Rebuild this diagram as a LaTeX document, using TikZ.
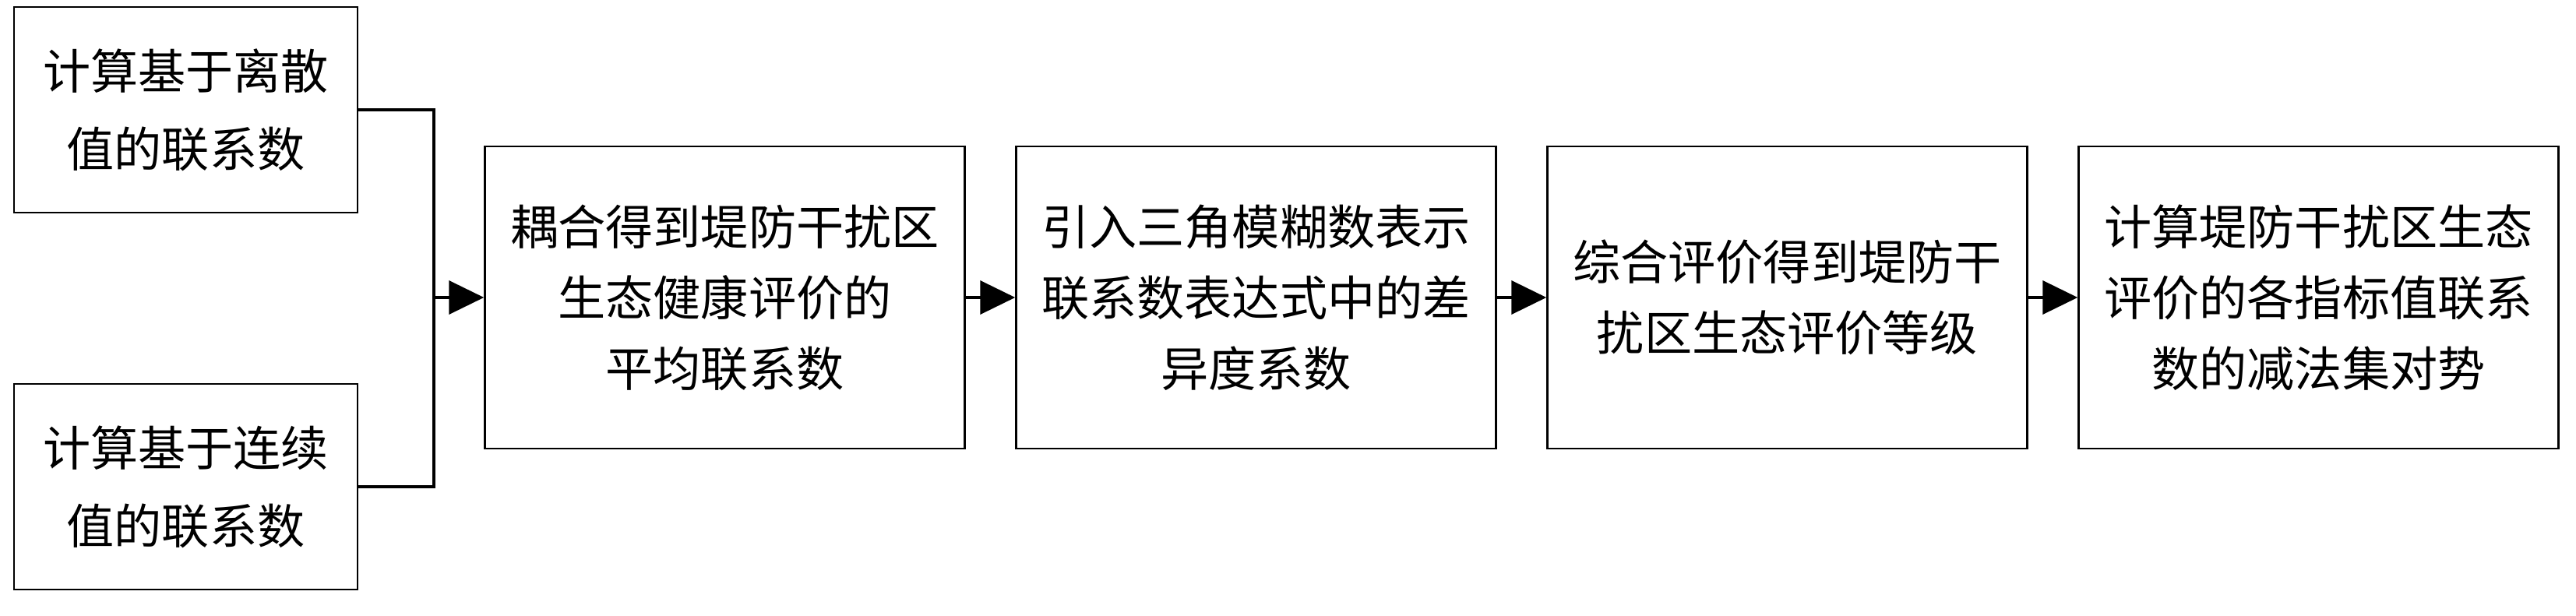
\documentclass[tikz,border=0pt]{standalone}
\usepackage{fontspec}
\newfontfamily\cjk{Noto Sans CJK SC}
\usetikzlibrary{arrows.meta}

\begin{document}
\begin{tikzpicture}[
  inbox/.style={draw, line width=0.7pt, inner sep=0pt, align=center,
    minimum width=4.41cm, minimum height=2.64cm,
    font=\cjk\fontsize{17.4pt}{28.5pt}\selectfont},
  stagebox/.style={draw, line width=0.7pt, inner sep=0pt, align=center,
    minimum width=6.16cm, minimum height=3.88cm,
    font=\cjk\fontsize{17.4pt}{25.9pt}\selectfont},
  link/.style={line width=1.2pt},
  flow/.style={line width=1.2pt, line cap=round, -{Triangle[length=12.8pt,width=12.2pt]}}
]
\useasboundingbox (0,0) rectangle (33.07,7.90);

\node[inbox] (discrete) at (2.385,6.49) {计算基于离散\\值的联系数};
\node[inbox] (continuous) at (2.385,1.65) {计算基于连续\\值的联系数};

\node[stagebox] (average) at (9.305,4.08) {耦合得到堤防干扰区\\生态健康评价的\\平均联系数};
\node[stagebox] (fuzzy) at (16.125,4.08) {引入三角模糊数表示\\联系数表达式中的差\\异度系数};
\node[stagebox] (grade) at (22.945,4.08) {综合评价得到堤防干\\扰区生态评价等级};
\node[stagebox] (trend) at (29.765,4.08) {计算堤防干扰区生态\\评价的各指标值联系\\数的减法集对势};

\coordinate (join) at (5.57,4.08);

\draw[link] (discrete.east) -| (join);
\draw[link] (continuous.east) -| (join);
\draw[flow] (join) -- (average.west);

\draw[flow] (average) -- (fuzzy);
\draw[flow] (fuzzy) -- (grade);
\draw[flow] (grade) -- (trend);

\end{tikzpicture}
\end{document}
